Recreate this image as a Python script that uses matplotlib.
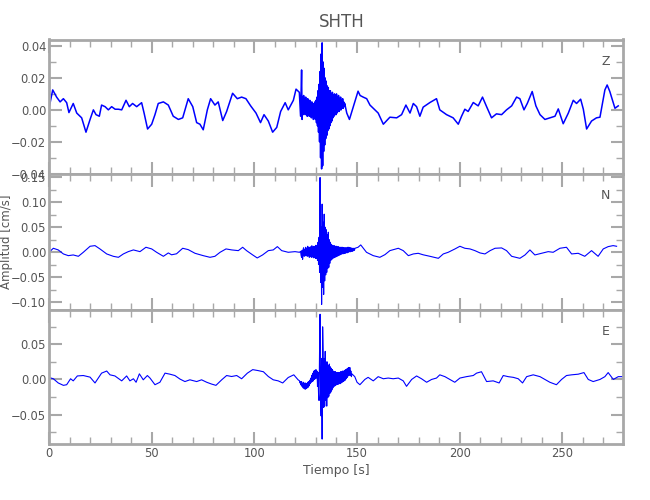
import numpy as np
import matplotlib
matplotlib.use('Agg')
import matplotlib.pyplot as plt
from matplotlib.ticker import MultipleLocator, FuncFormatter

# --- data (time in s, amplitude in cm/s) ---

# Z component
z_t_pre = [0.0, 1.8, 3.7, 5.4, 7.0, 8.6, 9.7, 11.8, 13.5, 15.9, 18.0, 20.0, 21.6, 22.9, 24.5,
           25.6, 27.3, 28.9, 30.5, 32.2, 33.8, 35.4, 37.5, 39.1, 40.7, 42.7, 45.1, 46.3, 48.0, 50.0,
           51.6, 53.2, 55.7, 58.1, 60.5, 63.0, 65.1, 67.8, 70.0, 71.9, 73.5, 75.1, 77.1, 78.7, 80.8,
           82.4, 84.6, 86.5, 89.4, 91.7, 93.8, 95.9, 98.2, 100.8, 103.0, 104.7, 106.8, 108.9, 110.9,
           112.8, 115.0, 116.5, 119.0, 120.3, 121.9]
z_v_pre = [0.001, 0.0125, 0.008, 0.005, 0.007, 0.0045, -0.0017, 0.004, -0.002, -0.005, -0.014,
           -0.006, 0.000, -0.003, -0.004, 0.003, 0.002, 0.000, 0.002, 0.0004, 0.0004, 0.000, 0.006,
           0.002, 0.004, 0.002, 0.0045, -0.002, -0.012, -0.009, -0.003, 0.004, 0.005, 0.003, -0.004,
           -0.006, -0.005, 0.007, 0.002, -0.008, -0.009, -0.0125, 0.000, 0.007, 0.003, 0.005, -0.0067,
           -0.001, 0.0104, 0.007, 0.008, 0.007, 0.0025, -0.002, -0.008, -0.003, -0.007, -0.014, -0.011,
           -0.001, 0.0045, 0.000, 0.006, 0.013, 0.011]
z_burst_t0 = 122.5
z_burst = [-0.004, 0.012, 0.025, -0.006, 0.008, -0.003, 0.009, -0.002,
           0.007, -0.003, 0.008, -0.002, 0.006, -0.004, 0.007, -0.003,
           0.005, -0.004, 0.006, -0.004, 0.004, -0.005, 0.005, -0.004,
           0.003, -0.006, 0.004, -0.005, 0.005, -0.006, 0.006, -0.008,
           0.008, -0.010, 0.012, -0.014, 0.016, -0.020, 0.024, -0.030,
           0.035, -0.037, 0.042, -0.035, 0.030, -0.026, 0.026, -0.022,
           0.020, -0.018, 0.018, -0.016, 0.015, -0.013, 0.014, -0.012,
           0.012, -0.010, 0.012, -0.008, 0.010, -0.007, 0.011, -0.005,
           0.009, -0.004, 0.010, -0.003, 0.009, -0.003, 0.010, -0.002,
           0.008, -0.001, 0.009, -0.001, 0.007, 0.000, 0.008, 0.000,
           0.006, 0.001, 0.007, 0.001, 0.005, 0.002, 0.004]
z_t_post = [145.0, 146.3, 147.5, 148.5, 150.5, 151.5, 153.0, 154.7, 156.3, 157.9, 160.3, 162.8,
            166.0, 169.3, 171.7, 173.8, 175.8, 177.4, 179.0, 180.6, 182.2, 185.5, 188.7, 190.3,
            193.6, 196.8, 199.3, 200.9, 202.5, 204.1, 206.6, 209.0, 211.1, 213.1, 215.5, 217.9,
            220.4, 222.8, 225.3, 227.7, 229.3, 231.3, 232.9, 235.3, 237.1, 239.1, 241.5, 243.9,
            246.4, 248.0, 250.4, 252.9, 255.3, 256.9, 258.9, 260.2, 261.8, 264.2, 266.6, 268.3,
            270.7, 271.8, 273.1, 275.6, 277.2]
z_v_post = [-0.002, -0.006, -0.001, 0.003, 0.0117, 0.009, 0.008, 0.007, 0.003, 0.001, -0.002,
            -0.009, -0.0046, -0.005, -0.003, 0.003, -0.002, 0.004, 0.002, -0.004, 0.0017, 0.0046,
            0.007, 0.000, -0.003, -0.005, -0.009, -0.004, 0.0004, -0.001, 0.0046, 0.0025, 0.008,
            0.002, -0.005, -0.0025, -0.003, 0.000, 0.0025, 0.008, 0.007, 0.000, 0.004, 0.0115,
            0.0025, -0.003, -0.006, -0.005, -0.004, 0.0006, -0.0087, -0.002, 0.006, 0.004, 0.0067,
            0.0004, -0.012, -0.007, -0.005, -0.0046, 0.0125, 0.0156, 0.0115, 0.001, 0.0025]

# N component
n_t_pre = [0.0, 2.1, 4.5, 7.0, 9.4, 11.8, 14.3, 16.7, 20.0, 22.4, 24.8, 28.1, 31.3, 33.8, 36.2,
           38.6, 41.1, 44.3, 47.2, 50.0, 52.4, 55.7, 58.1, 59.7, 62.1, 65.1, 67.8, 71.1, 75.1, 78.4,
           80.8, 83.3, 86.2, 89.0, 92.2, 94.3, 96.2, 99.2, 101.4, 104.0, 106.8, 109.2, 111.2, 113.3,
           116.5, 119.8, 122.0]
n_v_pre = [0.0, 0.008, 0.0047, -0.0033, -0.0067, -0.0053, -0.008, 0.0, 0.012, 0.0133, 0.0067,
           -0.0033, -0.008, -0.010, -0.0033, 0.0013, 0.0047, 0.0013, 0.010, 0.0067, 0.0, -0.008,
           -0.0013, -0.005, -0.003, 0.008, 0.0053, -0.002, -0.0067, -0.010, -0.008, 0.0, 0.0067,
           0.0047, 0.0033, 0.010, 0.0033, -0.0053, -0.0113, -0.0053, 0.0033, 0.0047, 0.0113, 0.0033,
           0.0, 0.0013, 0.0]
n_burst_t0 = 122.5
n_burst = [0.002, -0.006, -0.010, 0.004, -0.014, 0.006, 0.009, -0.008,
           0.006, -0.007, 0.010, -0.006, 0.008, -0.008, 0.012, -0.007,
           0.009, -0.010, 0.010, -0.008, 0.011, -0.010, 0.013, -0.009,
           0.010, -0.011, 0.012, -0.010, 0.011, -0.012, 0.014, -0.012,
           0.012, -0.016, 0.020, -0.024, 0.030, -0.040, 0.149, -0.060,
           0.050, -0.104, 0.096, -0.070, 0.060, -0.084, 0.076, -0.057,
           0.050, -0.045, 0.045, -0.040, 0.035, -0.032, 0.040, -0.030,
           0.025, -0.022, 0.020, -0.016, 0.016, -0.014, 0.014, -0.012,
           0.013, -0.011, 0.013, -0.010, 0.012, -0.009, 0.012, -0.008,
           0.011, -0.007, 0.011, -0.006, 0.010, -0.005, 0.010, -0.004,
           0.010, -0.003, 0.010, -0.003, 0.009, -0.002, 0.009, -0.002,
           0.009, -0.001, 0.009, -0.001, 0.010, 0.000, 0.010, 0.001,
           0.009, 0.001, 0.009, 0.002, 0.008, 0.002, 0.008, 0.003,
           0.008, 0.004, 0.008]
n_t_post = [150.5, 151.8, 154.6, 157.9, 161.1, 163.6, 166.0, 170.1, 172.5, 175.0, 177.4, 179.8,
            182.2, 185.5, 189.6, 192.0, 194.4, 197.7, 200.1, 202.5, 205.0, 207.4, 209.9, 212.3,
            214.8, 217.2, 220.4, 222.8, 225.3, 229.3, 231.8, 234.2, 236.6, 239.9, 243.1, 245.5,
            248.8, 252.0, 254.5, 257.7, 260.9, 264.2, 267.4, 269.9, 272.3, 274.7, 276.4]
n_v_post = [0.010, 0.0147, 0.0, -0.0067, -0.010, -0.0047, 0.0033, 0.008, 0.0033, -0.0067, -0.0033,
            -0.002, -0.005, -0.008, -0.012, -0.0033, 0.0, 0.0067, 0.012, 0.008, 0.0067, 0.0033,
            -0.0013, -0.0033, 0.0033, 0.008, 0.0087, 0.0033, -0.008, -0.012, -0.0053, 0.0047,
            -0.0053, -0.002, 0.0013, 0.0, 0.008, 0.010, -0.0033, -0.002, -0.008, 0.0033, -0.008,
            0.0067, 0.0113, 0.0133, 0.012]

# E component
e_t_pre = [0.0, 2.1, 4.5, 7.0, 8.6, 10.5, 11.8, 13.8, 16.7, 20.0, 22.4, 25.6, 28.1, 29.7, 32.1,
           35.4, 37.8, 39.4, 41.1, 42.4, 44.0, 45.9, 47.9, 49.2, 51.6, 54.0, 56.5, 58.9, 61.3, 63.8,
           66.2, 68.6, 71.9, 74.3, 76.8, 79.2, 81.3, 84.1, 86.5, 88.9, 91.4, 93.8, 96.6, 99.2, 101.9,
           104.4, 106.8, 109.2, 111.6, 113.8, 116.5, 119.2, 121.3]
e_v_pre = [0.0028, 0.001, -0.005, -0.0084, -0.0075, 0.001, -0.002, 0.005, 0.0056, 0.0033, -0.005,
           0.009, 0.012, 0.0066, 0.005, -0.002, 0.005, -0.002, 0.001, -0.004, 0.008, -0.0005, 0.0056,
           0.0019, -0.0075, -0.004, 0.009, 0.0075, 0.0056, 0.0005, -0.003, -0.0005, -0.003, -0.0005,
           -0.004, -0.0066, -0.0084, -0.0005, 0.0056, 0.0042, 0.0056, 0.001, 0.009, 0.014, 0.0126,
           0.011, 0.0042, -0.0005, -0.002, -0.005, 0.0028, 0.0066, -0.0005]
e_burst_t0 = 122.0
e_burst = [-0.002, -0.005, -0.003, -0.008, -0.003, -0.010, -0.005, -0.012,
           -0.004, -0.013, -0.006, -0.014, -0.005, -0.013, -0.006, -0.012,
           -0.004, -0.011, -0.003, -0.009, -0.001, -0.006, 0.002, -0.004,
           0.006, -0.003, 0.009, -0.002, 0.012, 0.000, 0.013, 0.001,
           0.014, 0.002, 0.012, -0.010, 0.010, -0.020, -0.030, 0.040,
           0.093, -0.020, -0.052, 0.030, -0.085, 0.075, 0.040, -0.040,
           0.030, -0.038, 0.040, -0.030, 0.025, -0.038, 0.025, -0.026,
           0.020, -0.024, 0.022, -0.020, 0.018, -0.018, 0.016, -0.015,
           0.014, -0.012, 0.012, -0.010, 0.011, -0.009, 0.011, -0.008,
           0.010, -0.007, 0.010, -0.007, 0.010, -0.006, 0.010, -0.006,
           0.011, -0.005, 0.011, -0.004, 0.012, -0.003, 0.012, -0.002,
           0.013, -0.001, 0.014, 0.001, 0.015, 0.003, 0.016, 0.005,
           0.017, 0.006, 0.017, 0.006, 0.012, 0.004, 0.008]
e_t_post = [148.9, 150.0, 151.4, 153.8, 155.4, 157.9, 160.3, 162.8, 165.2, 167.6, 170.1, 172.5,
            174.1, 176.6, 179.0, 181.4, 183.9, 186.3, 188.7, 190.3, 192.8, 195.2, 197.6, 200.1,
            203.3, 206.6, 208.2, 210.6, 213.1, 216.3, 219.2, 221.2, 223.6, 226.1, 228.5, 230.6,
            232.6, 235.8, 239.1, 241.5, 243.9, 247.1, 249.6, 252.0, 254.5, 257.7, 260.5, 262.6,
            265.0, 268.3, 270.7, 272.3, 274.8, 277.2, 279.3]
e_v_post = [0.004, -0.004, -0.0075, 0.0, 0.003, -0.002, 0.004, 0.001, 0.002, 0.001, 0.002, -0.002,
            -0.0098, 0.0, 0.005, 0.001, -0.004, 0.0, 0.002, 0.0066, 0.004, 0.0, -0.004, 0.002, 0.004,
            0.0056, 0.009, 0.011, -0.003, -0.002, -0.005, 0.0056, 0.004, 0.003, 0.001, -0.005, 0.004,
            0.0066, 0.004, 0.0, -0.004, -0.0075, 0.0, 0.0056, 0.0066, 0.0075, 0.0098, 0.0, -0.003,
            0.0, 0.004, 0.0098, 0.0, 0.004, 0.004]

station = 'SHTH'
components = ['Z', 'N', 'E']
burst_step = 0.25


def join_trace(t_pre, v_pre, t0, burst, t_post, v_post):
    t_b = t0 + burst_step * np.arange(len(burst))
    t = np.concatenate([t_pre, t_b, t_post])
    v = np.concatenate([v_pre, burst, v_post])
    return t, v


traces = [join_trace(z_t_pre, z_v_pre, z_burst_t0, z_burst, z_t_post, z_v_post),
          join_trace(n_t_pre, n_v_pre, n_burst_t0, n_burst, n_t_post, n_v_post),
          join_trace(e_t_pre, e_v_pre, e_burst_t0, e_burst, e_t_post, e_v_post)]

# panel layout (IDL-like stacked plots)
ylims = [(-0.0402, 0.0441), (-0.115, 0.156), (-0.092, 0.099)]
ymajor = [0.02, 0.05, 0.05]
yminor = [0.01, 0.025, 0.025]
boxes = [[0.0754, 0.652, 0.883, 0.269],
         [0.0754, 0.380, 0.883, 0.272],
         [0.0754, 0.112, 0.883, 0.268]]
line_w = [1.1, 0.8, 0.8]

axis_col = '#a8a8a8'
text_col = '#555555'
plt.rcParams['font.family'] = ['DejaVu Sans']


def fmt(v, pos):
    s = '%.2f' % v
    if s == '-0.00':
        s = '0.00'
    return s.replace('-', '\u2212')


fig = plt.figure(figsize=(6.5, 5), dpi=100)
axes = []
for i, (t, v) in enumerate(traces):
    ax = fig.add_axes(boxes[i])
    ax.plot(t, v, color='#0000ff', lw=line_w[i])
    ax.set_xlim(0, 279.5)
    ax.set_ylim(*ylims[i])
    ax.xaxis.set_major_locator(MultipleLocator(50))
    ax.xaxis.set_minor_locator(MultipleLocator(10))
    ax.yaxis.set_major_locator(MultipleLocator(ymajor[i]))
    ax.yaxis.set_minor_locator(MultipleLocator(yminor[i]))
    ax.yaxis.set_major_formatter(FuncFormatter(fmt))
    ax.tick_params(which='both', direction='in', top=True, right=True,
                   color=axis_col, labelcolor=text_col, labelsize=8.3, pad=2)
    ax.tick_params(which='major', length=9, width=1.5)
    ax.tick_params(which='minor', length=5, width=1)
    for sp in ax.spines.values():
        sp.set_color(axis_col)
        sp.set_linewidth(2)
    if i < 2:
        ax.tick_params(labelbottom=False)
    ax.text(0.97, 0.84, components[i], transform=ax.transAxes, color=text_col,
            fontsize=9, ha='center', va='center')
    axes.append(ax)

axes[2].set_xlabel('Tiempo [s]', color=text_col, fontsize=9, labelpad=3)
fig.text(0.010, 0.516, 'Amplitud [cm/s]', color=text_col, fontsize=8.5,
         rotation=90, ha='center', va='center')
fig.text(0.526, 0.956, station, color=text_col, fontsize=12, ha='center', va='center')

fig.savefig('out.png', dpi=100)
